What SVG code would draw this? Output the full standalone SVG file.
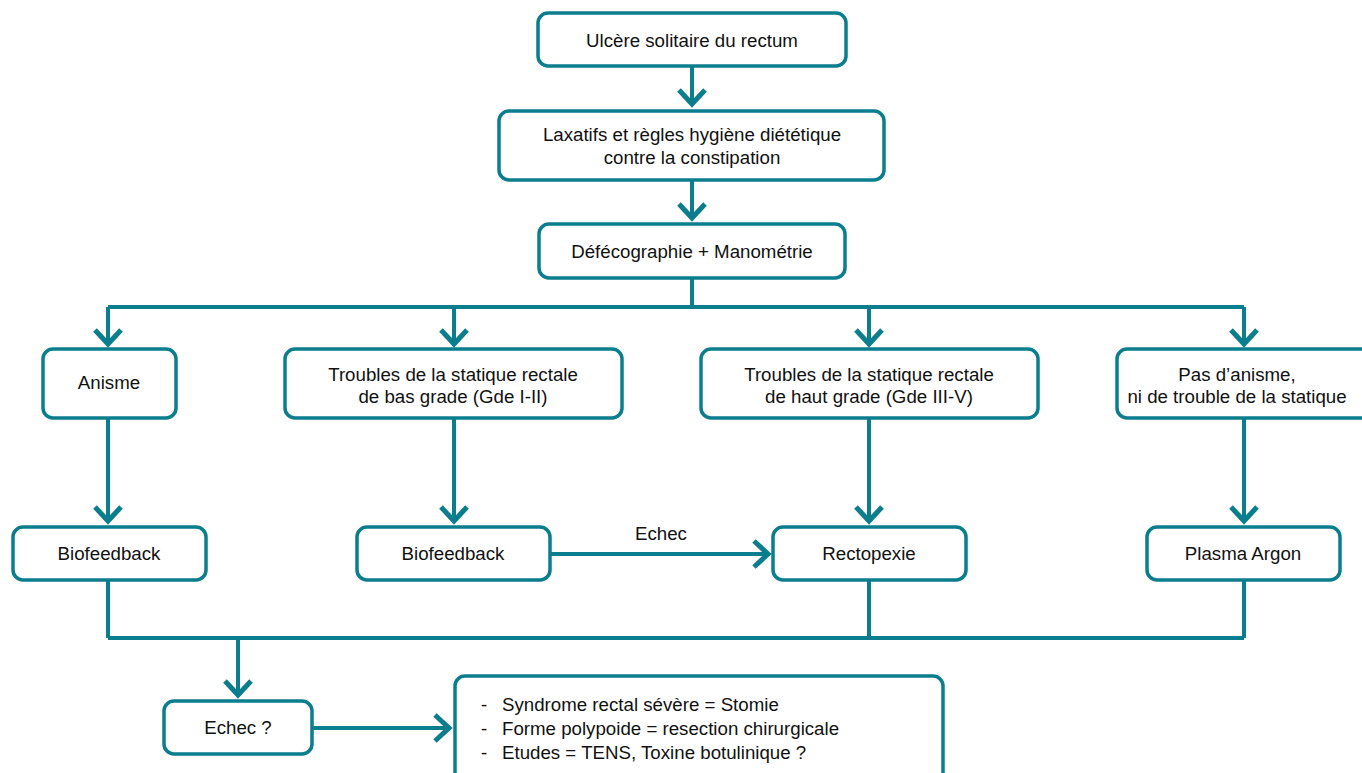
<svg xmlns="http://www.w3.org/2000/svg" width="1362" height="773" viewBox="0 0 1362 773">
<style>
.box{fill:#ffffff;stroke:#0b7e8e;stroke-width:3.5}
.t{font-family:"Liberation Sans",Arial,Helvetica,sans-serif;font-size:18.7px;fill:#111111;text-anchor:middle}
.tl{font-family:"Liberation Sans",Arial,Helvetica,sans-serif;font-size:18.7px;fill:#111111}
.c{fill:none;stroke:#0b7e8e;stroke-width:4}
</style>
<defs>
<marker id="ah" markerUnits="userSpaceOnUse" markerWidth="40" markerHeight="40" viewBox="-20 -20 40 40" refX="0" refY="0" orient="auto" overflow="visible">
<path d="M-14,-13 L0,0 L-14,13" fill="none" stroke="#0b7e8e" stroke-width="5"/>
</marker>
</defs>
<rect width="1362" height="773" fill="#ffffff"/>
<g id="connectors">
<path class="c" d="M692,66 V104" marker-end="url(#ah)"/>
<path class="c" d="M692,180 V218" marker-end="url(#ah)"/>
<path class="c" d="M692,278 V307"/>
<path class="c" d="M108,307 H1244"/>
<path class="c" d="M108,307 V344" marker-end="url(#ah)"/>
<path class="c" d="M454,307 V344" marker-end="url(#ah)"/>
<path class="c" d="M869,307 V344" marker-end="url(#ah)"/>
<path class="c" d="M1244,307 V344" marker-end="url(#ah)"/>
<path class="c" d="M108,418 V521" marker-end="url(#ah)"/>
<path class="c" d="M454,418 V521" marker-end="url(#ah)"/>
<path class="c" d="M869,418 V521" marker-end="url(#ah)"/>
<path class="c" d="M1244,418 V521" marker-end="url(#ah)"/>
<path class="c" d="M550,554 H768" marker-end="url(#ah)"/>
<path class="c" d="M108,580 V638"/>
<path class="c" d="M869,580 V638"/>
<path class="c" d="M1244,580 V638"/>
<path class="c" d="M108,638 H1244"/>
<path class="c" d="M238,638 V695" marker-end="url(#ah)"/>
<path class="c" d="M312,728 H449" marker-end="url(#ah)"/>
<text class="t" x="661" y="540">Echec</text>
</g>
<g id="n1"><rect class="box" x="538" y="13" width="308" height="53" rx="10"/><text class="t" x="692" y="47">Ulcère solitaire du rectum</text></g>
<g id="n2"><rect class="box" x="499" y="111" width="385" height="69" rx="10"/><text class="t" x="692" y="141">Laxatifs et règles hygiène diététique</text><text class="t" x="692" y="164">contre la constipation</text></g>
<g id="n3"><rect class="box" x="539" y="224" width="306" height="54" rx="10"/><text class="t" x="692" y="258">Défécographie + Manométrie</text></g>
<g id="n4"><rect class="box" x="43" y="349" width="133" height="69" rx="10"/><text class="t" x="109" y="389">Anisme</text></g>
<g id="n5"><rect class="box" x="285" y="349" width="337" height="69" rx="10"/><text class="t" x="453" y="381">Troubles de la statique rectale</text><text class="t" x="453" y="403">de bas grade (Gde I-II)</text></g>
<g id="n6"><rect class="box" x="701" y="349" width="337" height="69" rx="10"/><text class="t" x="869" y="381">Troubles de la statique rectale</text><text class="t" x="869" y="403">de haut grade (Gde III-V)</text></g>
<g id="n7"><rect class="box" x="1117" y="349" width="260" height="69" rx="10"/><text class="t" x="1237" y="381">Pas d’anisme,</text><text class="t" x="1237" y="403">ni de trouble de la statique</text></g>
<g id="n8"><rect class="box" x="13" y="527" width="193" height="53" rx="10"/><text class="t" x="109" y="560">Biofeedback</text></g>
<g id="n9"><rect class="box" x="357" y="527" width="193" height="53" rx="10"/><text class="t" x="453" y="560">Biofeedback</text></g>
<g id="n10"><rect class="box" x="773" y="527" width="193" height="53" rx="10"/><text class="t" x="869" y="560">Rectopexie</text></g>
<g id="n11"><rect class="box" x="1147" y="527" width="193" height="53" rx="10"/><text class="t" x="1243" y="560">Plasma Argon</text></g>
<g id="n12"><rect class="box" x="164" y="701" width="148" height="53" rx="10"/><text class="t" x="238" y="734">Echec ?</text></g>
<g id="n13"><rect class="box" x="455" y="676" width="488" height="110" rx="10"/>
<text class="tl" x="481" y="711">-</text><text class="tl" x="502" y="711">Syndrome rectal sévère = Stomie</text>
<text class="tl" x="481" y="735">-</text><text class="tl" x="502" y="735">Forme polypoide = resection chirurgicale</text>
<text class="tl" x="481" y="759">-</text><text class="tl" x="502" y="759">Etudes = TENS, Toxine botulinique ?</text>
</g>
</svg>
